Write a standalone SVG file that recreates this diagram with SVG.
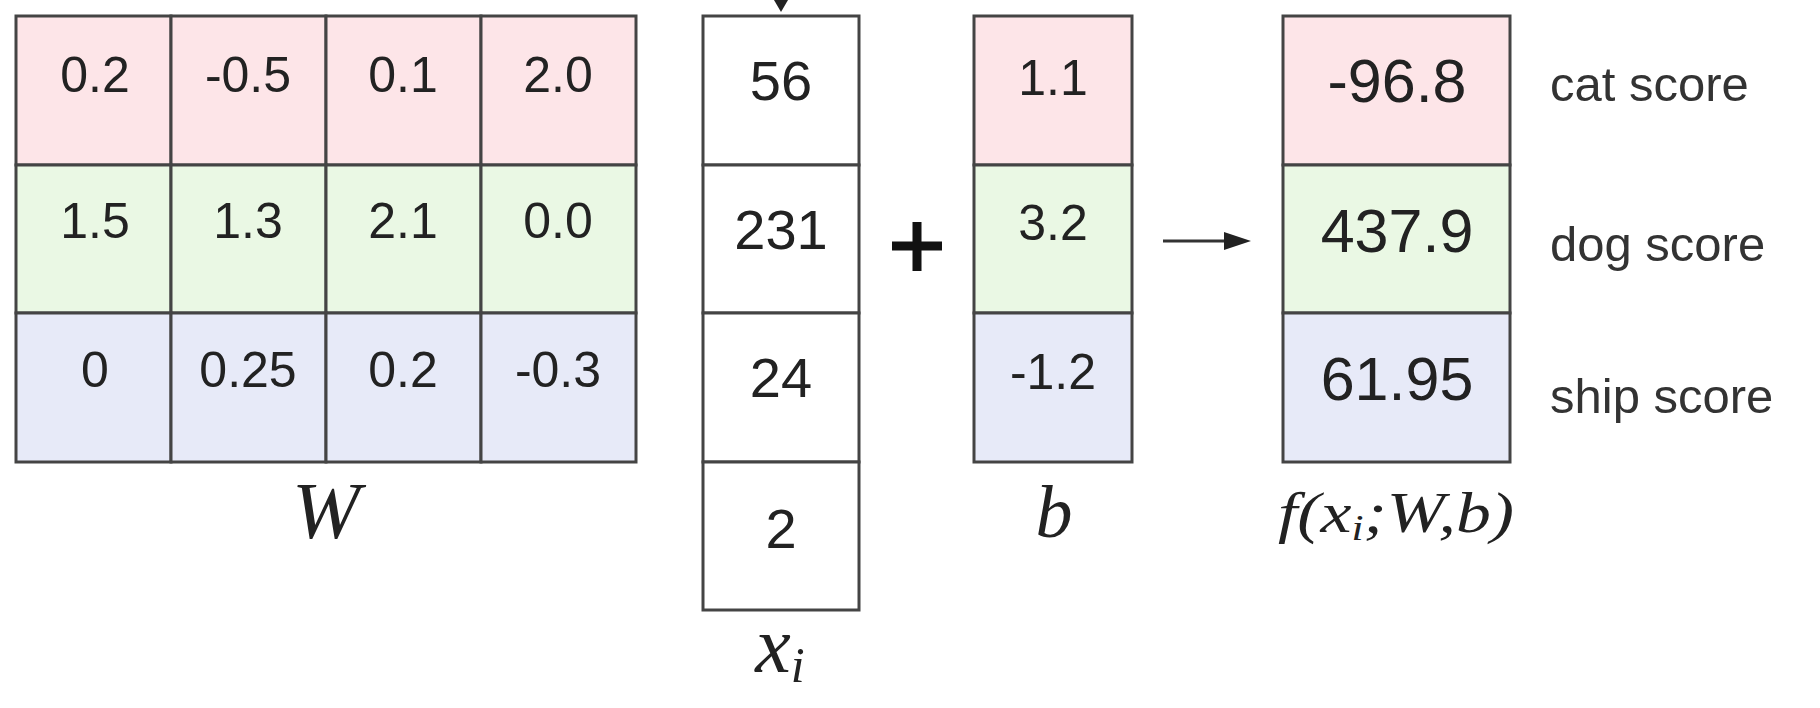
<svg xmlns="http://www.w3.org/2000/svg" width="1820" height="708" viewBox="0 0 1820 708">
<style>
.cell{stroke:#444;stroke-width:3}
.r{fill:#fde5e8}
.g{fill:#eaf8e4}
.b{fill:#e7eaf8}
.w{fill:#ffffff}
.num{font-family:"Liberation Sans",Arial,sans-serif;fill:#222;text-anchor:middle}
.n50{font-size:50px}
.n56{font-size:56px}
.n58{font-size:61px}
.lab{font-family:"Liberation Sans",Arial,sans-serif;font-size:49px;fill:#333}
.math{font-family:"Liberation Serif","Times New Roman",serif;font-style:italic;fill:#222;text-anchor:middle}
</style>
<rect width="1820" height="708" fill="#ffffff"/>
<g id="W">
<rect class="cell r" x="16" y="16" width="155" height="149"/>
<rect class="cell r" x="171" y="16" width="155" height="149"/>
<rect class="cell r" x="326" y="16" width="155" height="149"/>
<rect class="cell r" x="481" y="16" width="155" height="149"/>
<rect class="cell g" x="16" y="165" width="155" height="148"/>
<rect class="cell g" x="171" y="165" width="155" height="148"/>
<rect class="cell g" x="326" y="165" width="155" height="148"/>
<rect class="cell g" x="481" y="165" width="155" height="148"/>
<rect class="cell b" x="16" y="313" width="155" height="149"/>
<rect class="cell b" x="171" y="313" width="155" height="149"/>
<rect class="cell b" x="326" y="313" width="155" height="149"/>
<rect class="cell b" x="481" y="313" width="155" height="149"/>
<g class="num n50">
<text x="95" y="92">0.2</text><text x="248" y="92">-0.5</text><text x="403" y="92">0.1</text><text x="558" y="92">2.0</text>
<text x="95" y="238">1.5</text><text x="248" y="238">1.3</text><text x="403" y="238">2.1</text><text x="558" y="238">0.0</text>
<text x="95" y="387">0</text><text x="248" y="387">0.25</text><text x="403" y="387">0.2</text><text x="558" y="387">-0.3</text>
</g>
<text class="math" x="326" y="538" font-size="80" textLength="68" lengthAdjust="spacingAndGlyphs">W</text>
</g>
<g id="x">
<rect class="cell w" x="703" y="16" width="156" height="149"/>
<rect class="cell w" x="703" y="165" width="156" height="148"/>
<rect class="cell w" x="703" y="313" width="156" height="149"/>
<rect class="cell w" x="703" y="462" width="156" height="148"/>
<g class="num n56">
<text x="781" y="100">56</text><text x="781" y="249">231</text><text x="781" y="397">24</text><text x="781" y="548">2</text>
</g>
<text class="math" x="780" y="672" font-size="80">x<tspan font-size="50" dy="10">i</tspan></text>
</g>
<g id="plus">
<path d="M892 246H942M917 222V271" stroke="#111" stroke-width="9" fill="none"/>
</g>
<g id="b">
<rect class="cell r" x="974" y="16" width="158" height="149"/>
<rect class="cell g" x="974" y="165" width="158" height="148"/>
<rect class="cell b" x="974" y="313" width="158" height="149"/>
<g class="num n50">
<text x="1053" y="95">1.1</text><text x="1053" y="240">3.2</text><text x="1053" y="389">-1.2</text>
</g>
<text class="math" x="1054" y="537" font-size="74">b</text>
</g>
<g id="f">
<rect class="cell r" x="1283" y="16" width="227" height="149"/>
<rect class="cell g" x="1283" y="165" width="227" height="148"/>
<rect class="cell b" x="1283" y="313" width="227" height="149"/>
<g class="num n58">
<text x="1397" y="102">-96.8</text><text x="1397" y="252">437.9</text><text x="1397" y="400">61.95</text>
</g>
<text class="math" x="1396" y="532" font-size="58" textLength="236" lengthAdjust="spacingAndGlyphs">f(x<tspan font-size="36" dy="8">i</tspan><tspan dy="-8">;W,b)</tspan></text>
</g>
<g id="labels">
<text class="lab" x="1550" y="101">cat score</text>
<text class="lab" x="1550" y="261">dog score</text>
<text class="lab" x="1550" y="413">ship score</text>
</g>
<g id="connectors">
<line x1="781" y1="-10" x2="781" y2="2" stroke="#222" stroke-width="3"/>
<polygon points="774,0 788,0 781,12" fill="#222"/>
<line x1="1163" y1="241" x2="1228" y2="241" stroke="#333" stroke-width="3"/>
<polygon points="1224,232 1251,241 1224,250" fill="#222"/>
</g>
</svg>
